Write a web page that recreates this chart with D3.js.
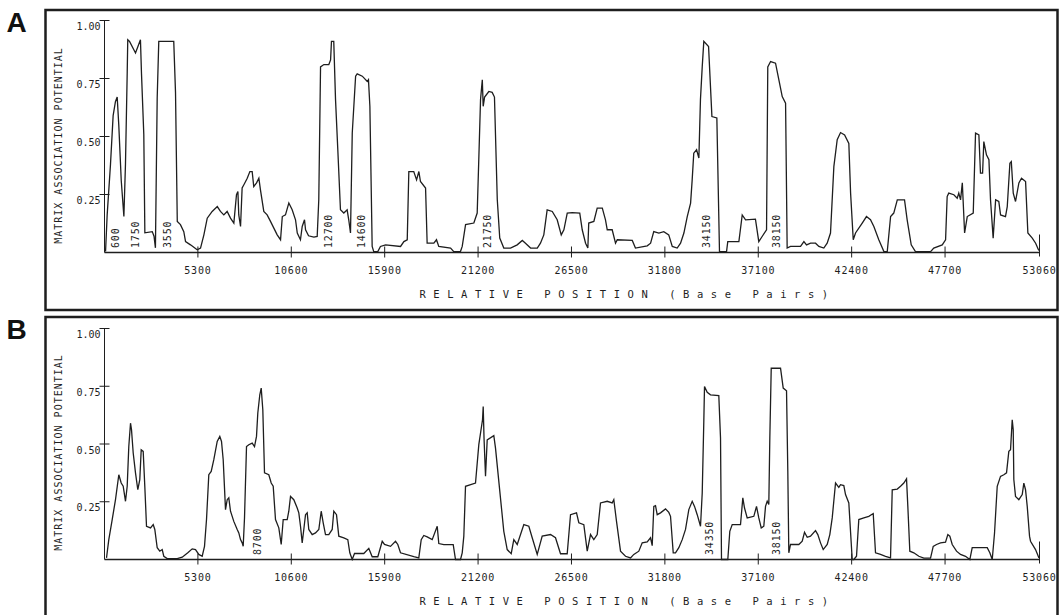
<!DOCTYPE html>
<html>
<head>
<meta charset="utf-8">
<script src="https://cdn.jsdelivr.net/npm/d3@7"></script>
<style>
  body { margin: 0; background: #fff; }
  svg { display: block; }
</style>
</head>
<body>
<svg id="fig" width="1060" height="615"></svg>
<script>
// Axis ticks (base pairs / potential)
const xTicks = [5300, 10600, 15900, 21200, 26500, 31800, 37100, 42400, 47700, 53060];
const yTicks = [0.25, 0.50, 0.75, 1.00];
const seqLength = 53060;

// Positions of the marked MAR peaks
const peaksA = [600, 1750, 3550, 12700, 14600, 21750, 34150, 38150];
const peaksB = [8700, 34350, 38150];

// [relative position (bp), matrix association potential]
const seriesA = [
  [60,0.004],[150,0.16],[340,0.38],[490,0.59],[620,0.65],[720,0.67],[810,0.55],[950,0.31],[1100,0.155],[1190,0.38],
  [1290,0.78],[1320,0.917],[1420,0.91],[1760,0.86],[2040,0.917],[2100,0.77],[2230,0.51],[2290,0.085],[2710,0.09],[2810,0.07],
  [2890,0.02],[2990,0.665],[3080,0.91],[3930,0.91],[4030,0.69],[4130,0.134],[4310,0.12],[4500,0.09],[4600,0.047],[4880,0.033],
  [5260,0.012],[5450,0.019],[5640,0.076],[5830,0.148],[6110,0.177],[6400,0.198],[6580,0.177],[6770,0.162],[6960,0.177],[7150,0.148],
  [7340,0.127],[7490,0.249],[7570,0.263],[7620,0.162],[7720,0.112],[7810,0.278],[7910,0.292],[8100,0.32],[8250,0.349],[8380,0.349],
  [8470,0.284],[8630,0.30],[8760,0.32],[8850,0.27],[9040,0.177],[9230,0.162],[9420,0.134],[9610,0.105],[9800,0.076],[9990,0.055],
  [10090,0.155],[10270,0.162],[10460,0.213],[10650,0.184],[10840,0.141],[10940,0.084],[11120,0.055],[11220,0.112],[11350,0.141],[11410,0.098],
  [11580,0.072],[11880,0.066],[12070,0.069],[12160,0.227],[12260,0.80],[12450,0.81],[12730,0.81],[12830,0.83],[12880,0.91],[13010,0.91],
  [13110,0.66],[13240,0.443],[13390,0.184],[13580,0.17],[13770,0.184],[13860,0.141],[13960,0.084],[14060,0.515],[14250,0.76],[14340,0.77],
  [14630,0.76],[14910,0.737],[14980,0.745],[15060,0.63],[15190,0.026],[15280,0.004],[15510,0.004],[15660,0.026],[15950,0.033],[16800,0.026],
  [16990,0.047],[17180,0.055],[17270,0.349],[17550,0.349],[17710,0.313],[17840,0.349],[17930,0.306],[18220,0.278],[18310,0.04],[18690,0.04],
  [18840,0.055],[18970,0.026],[19640,0.019],[19820,0.004],[20200,0.004],[20300,0.026],[20490,0.12],[20960,0.127],[21150,0.17],[21240,0.40],
  [21340,0.66],[21440,0.744],[21490,0.63],[21570,0.67],[21810,0.694],[22000,0.69],[22130,0.67],[22290,0.227],[22430,0.062],[22660,0.019],
  [23040,0.019],[23420,0.033],[23710,0.052],[23890,0.04],[24180,0.019],[24560,0.019],[24740,0.04],[24930,0.076],[25120,0.184],[25410,0.177],
  [25690,0.141],[25920,0.076],[26070,0.098],[26260,0.17],[26540,0.172],[26970,0.17],[27110,0.098],[27300,0.04],[27430,0.019],[27480,0.127],
  [27770,0.134],[27960,0.191],[28250,0.191],[28430,0.141],[28530,0.098],[28810,0.098],[29000,0.04],[29100,0.055],[29950,0.052],[30130,0.019],
  [30800,0.029],[30990,0.04],[31170,0.09],[31460,0.084],[31740,0.09],[32020,0.076],[32220,0.026],[32500,0.019],[32690,0.04],[32880,0.084],
  [33070,0.155],[33260,0.213],[33350,0.313],[33440,0.428],[33600,0.443],[33730,0.407],[33820,0.66],[33920,0.80],[34010,0.91],[34280,0.888],
  [34470,0.586],[34750,0.58],[34900,0.004],[35300,0.004],[35370,0.047],[36000,0.047],[36190,0.162],[36380,0.141],[36940,0.144],[37130,0.047],
  [37320,0.069],[37570,0.098],[37640,0.80],[37800,0.823],[38080,0.816],[38270,0.744],[38460,0.672],[38650,0.644],[38740,0.019],[38930,0.026],
  [39500,0.026],[39690,0.047],[39840,0.033],[40070,0.04],[40350,0.04],[40540,0.026],[40820,0.019],[41010,0.04],[41200,0.084],[41390,0.37],
  [41580,0.486],[41770,0.517],[42000,0.507],[42240,0.47],[42340,0.256],[42490,0.055],[42620,0.084],[43000,0.127],[43240,0.155],[43470,0.141],
  [43660,0.112],[43940,0.055],[44230,0.004],[44420,0.004],[44610,0.155],[44790,0.17],[44990,0.227],[45400,0.227],[45550,0.141],[45780,0.033],
  [46020,0.004],[46880,0.004],[47060,0.019],[47540,0.033],[47730,0.055],[47820,0.241],[47910,0.256],[48200,0.249],[48390,0.234],[48480,0.256],
  [48580,0.227],[48680,0.30],[48810,0.084],[48960,0.155],[49300,0.17],[49430,0.515],[49620,0.507],[49710,0.342],[49830,0.342],[49900,0.478],
  [50050,0.421],[50190,0.40],[50280,0.227],[50430,0.062],[50570,0.227],[50750,0.22],[50850,0.162],[51130,0.155],[51230,0.198],[51380,0.385],
  [51460,0.392],[51570,0.256],[51700,0.22],[51890,0.30],[52040,0.32],[52270,0.306],[52400,0.084],[52650,0.062],[52840,0.04],[53020,0.009]
];

const seriesB = [
  [114,0.007],[244,0.086],[437,0.173],[624,0.259],[812,0.367],[948,0.331],[1061,0.317],[1192,0.252],[1288,0.317],[1379,0.489],
  [1476,0.59],[1532,0.562],[1629,0.461],[1759,0.375],[1890,0.302],[2003,0.346],[2083,0.475],[2196,0.468],[2287,0.317],[2384,0.144],
  [2611,0.137],[2764,0.151],[2855,0.13],[2991,0.051],[3138,0.036],[3274,0.043],[3365,0.014],[3558,0.004],[4126,0.004],[4410,0.01],
  [4727,0.029],[4977,0.046],[5164,0.043],[5352,0.022],[5544,0.014],[5675,0.057],[5789,0.173],[5919,0.367],[6055,0.381],[6203,0.432],
  [6396,0.511],[6543,0.533],[6640,0.511],[6736,0.432],[6867,0.216],[6963,0.259],[7054,0.267],[7151,0.209],[7338,0.165],[7531,0.13],
  [7622,0.115],[7718,0.086],[7814,0.072],[7871,0.057],[7945,0.18],[8059,0.489],[8189,0.497],[8382,0.504],[8513,0.489],[8626,0.533],
  [8700,0.634],[8813,0.713],[8893,0.742],[8984,0.648],[9080,0.375],[9324,0.367],[9460,0.331],[9574,0.317],[9704,0.173],[9892,0.137],
  [10028,0.065],[10141,0.173],[10368,0.173],[10459,0.209],[10556,0.273],[10743,0.259],[10936,0.223],[11027,0.202],[11123,0.144],[11219,0.072],
  [11310,0.13],[11407,0.194],[11503,0.202],[11594,0.13],[11787,0.108],[11974,0.115],[12162,0.13],[12298,0.209],[12411,0.159],[12542,0.108],
  [12729,0.108],[12922,0.13],[13013,0.209],[13166,0.194],[13296,0.101],[13580,0.094],[13807,0.086],[13921,0.029],[14057,0],[14188,0.026],
  [14715,0.026],[14999,0.048],[15192,0.012],[15510,0.012],[15760,0.079],[15890,0.065],[16231,0.057],[16514,0.079],[16645,0.065],[16798,0.029],
  [17553,0.012],[17836,0.007],[17973,0.086],[18120,0.104],[18313,0.098],[18597,0.086],[18881,0.144],[18971,0.069],[19255,0.064],[19789,0.064],
  [19919,0],[20203,0],[20300,0.029],[20391,0.101],[20487,0.317],[21054,0.331],[21242,0.497],[21452,0.605],[21491,0.662],[21537,0.527],
  [21622,0.36],[21718,0.518],[22093,0.536],[22189,0.482],[22377,0.338],[22660,0.122],[22853,0.043],[23080,0.025],[23228,0.086],[23421,0.065],
  [23796,0.151],[24080,0.144],[24272,0.094],[24556,0.022],[24839,0.101],[25311,0.108],[25594,0.094],[25878,0.025],[26258,0.025],[26446,0.194],
  [26786,0.202],[26917,0.159],[27201,0.151],[27394,0.036],[27581,0.108],[27768,0.086],[27961,0.108],[28148,0.245],[28528,0.252],[28812,0.245],
  [28903,0.259],[29056,0.165],[29283,0.036],[29567,0.014],[29851,0.007],[30038,0.022],[30322,0.036],[30515,0.072],[30798,0.076],[30985,0.094],
  [31082,0.06],[31173,0.23],[31269,0.233],[31366,0.194],[31553,0.202],[31837,0.219],[32024,0.204],[32121,0.187],[32274,0.029],[32404,0.029],
  [32592,0.051],[32785,0.086],[32972,0.13],[33159,0.216],[33352,0.252],[33483,0.23],[33636,0.194],[33823,0.144],[33920,0.288],[34010,0.597],
  [34050,0.749],[34203,0.724],[34390,0.713],[34861,0.71],[34958,0.526],[35014,0],[35372,0],[35485,0.122],[35622,0.151],[36093,0.151],
  [36224,0.267],[36320,0.223],[36473,0.18],[36848,0.187],[37001,0.23],[37131,0.18],[37268,0.137],[37415,0.144],[37512,0.23],[37608,0.252],
  [37699,0.238],[37756,0.526],[37836,0.828],[38364,0.828],[38516,0.742],[38704,0.73],[38777,0.382],[38834,0.029],[38931,0.065],[39402,0.065],
  [39595,0.079],[39725,0.118],[39878,0.096],[40065,0.101],[40349,0.125],[40480,0.108],[40633,0.072],[40786,0.043],[41013,0.065],[41161,0.108],
  [41297,0.18],[41485,0.331],[41672,0.312],[41768,0.324],[41955,0.32],[42052,0.281],[42239,0.245],[42432,0],[42522,0],[42676,0.014],
  [42806,0.173],[43090,0.18],[43374,0.187],[43624,0.199],[43754,0.029],[44038,0.022],[44322,0.014],[44606,0.007],[44703,0.302],[44987,0.305],
  [45174,0.317],[45360,0.331],[45514,0.349],[45588,0.23],[45701,0.036],[45928,0.029],[46212,0.014],[46496,0.006],[46876,0.006],[47029,0.057],
  [47216,0.065],[47443,0.072],[47727,0.075],[47858,0.108],[47971,0.101],[48107,0.065],[48351,0.036],[48578,0.022],[48862,0.014],[49107,0],
  [49242,0.051],[49617,0.051],[50094,0.051],[50241,0.029],[50378,0],[50508,0.115],[50661,0.317],[50848,0.36],[51035,0.367],[51189,0.375],
  [51319,0.468],[51416,0.475],[51512,0.605],[51569,0.562],[51603,0.346],[51699,0.273],[51887,0.259],[52080,0.281],[52171,0.331],[52267,0.302],
  [52364,0.23],[52494,0.101],[52551,0.079],[52835,0.043],[53030,0.007]
];

const ink = "#1e1e1e";
const mono = "'DejaVu Sans Mono', 'Liberation Mono', monospace";

const panels = [
  { letter: "A", data: seriesA, peaks: peaksA, boxY: 10,  boxH: 300, base: 252.5, top: 20.5, letterY: 31.5 },
  { letter: "B", data: seriesB, peaks: peaksB, boxY: 317, boxH: 310, base: 559.5, top: 328.5, letterY: 338.5 }
];

const svg = d3.select("#fig");
const x = d3.scaleLinear().domain([0, seqLength]).range([104.5, 1039.5]);
const fmt = d3.format(".2f");

panels.forEach(p => {
  const y = d3.scaleLinear().domain([0, 1]).range([p.base, p.top]);
  const g = svg.append("g");

  // frame
  g.append("rect")
    .attr("x", 45.5).attr("y", p.boxY)
    .attr("width", 1012).attr("height", p.boxH)
    .attr("fill", "none").attr("stroke", ink).attr("stroke-width", 2.5);

  // panel letter
  g.append("text")
    .attr("x", 6.5).attr("y", p.letterY)
    .attr("font-family", "'Liberation Sans', Arial, sans-serif")
    .attr("font-weight", "bold").attr("font-size", 28)
    .attr("fill", "#111").text(p.letter);

  // axes lines
  g.append("line")
    .attr("x1", x(0)).attr("x2", x(0)).attr("y1", y(0)).attr("y2", y(1))
    .attr("stroke", ink).attr("stroke-width", 1);
  g.append("line")
    .attr("x1", x(0)).attr("x2", x(seqLength)).attr("y1", y(0)).attr("y2", y(0))
    .attr("stroke", ink).attr("stroke-width", 1.3);

  // y ticks and labels
  yTicks.forEach(t => {
    g.append("line")
      .attr("x1", x(0) - 5).attr("x2", x(0) + 5)
      .attr("y1", y(t)).attr("y2", y(t))
      .attr("stroke", ink).attr("stroke-width", 1);
    g.append("text")
      .attr("x", x(0) - 4).attr("y", y(t) + 9.5)
      .attr("text-anchor", "end")
      .attr("font-family", mono).attr("font-size", 10)
      .attr("fill", ink).text(fmt(t));
  });

  // x ticks and labels
  xTicks.forEach(t => {
    const last = t === seqLength;
    g.append("line")
      .attr("x1", x(t)).attr("x2", x(t))
      .attr("y1", y(0) - (last ? 18 : 6)).attr("y2", y(0) + (last ? 4 : 5))
      .attr("stroke", ink).attr("stroke-width", 1);
    g.append("text")
      .attr("x", x(t)).attr("y", y(0) + 21.5)
      .attr("text-anchor", "middle")
      .attr("font-family", mono).attr("font-size", 10)
      .attr("letter-spacing", 0.8)
      .attr("fill", ink).text(String(t));
  });

  // axis titles
  g.append("text")
    .attr("transform", `translate(61.5, ${y(0) - 107}) rotate(-90)`)
    .attr("text-anchor", "middle")
    .attr("font-family", mono).attr("font-size", 10)
    .attr("letter-spacing", 1)
    .attr("fill", ink).text("MATRIX ASSOCIATION POTENTIAL");
  g.append("text")
    .attr("x", 419.5).attr("y", y(0) + 45.5)
    .attr("font-family", mono).attr("font-size", 10.5)
    .attr("letter-spacing", 7.55)
    .attr("fill", ink)
    .attr("xml:space", "preserve")
    .text("RELATIVE POSITION (Base Pairs)");

  // peak position markers
  p.peaks.forEach(bp => {
    g.append("text")
      .attr("transform", `translate(${x(bp) + 3.5}, ${y(0) - 4.5}) rotate(-90)`)
      .attr("font-family", mono).attr("font-size", 10)
      .attr("letter-spacing", 0.8)
      .attr("fill", ink).text(String(bp));
  });

  // MAR potential trace
  const line = d3.line().x(d => x(d[0])).y(d => y(d[1]));
  g.append("path")
    .datum(p.data)
    .attr("d", line)
    .attr("fill", "none")
    .attr("stroke", ink)
    .attr("stroke-width", 1.3)
    .attr("stroke-linejoin", "miter");
});
</script>
</body>
</html>
